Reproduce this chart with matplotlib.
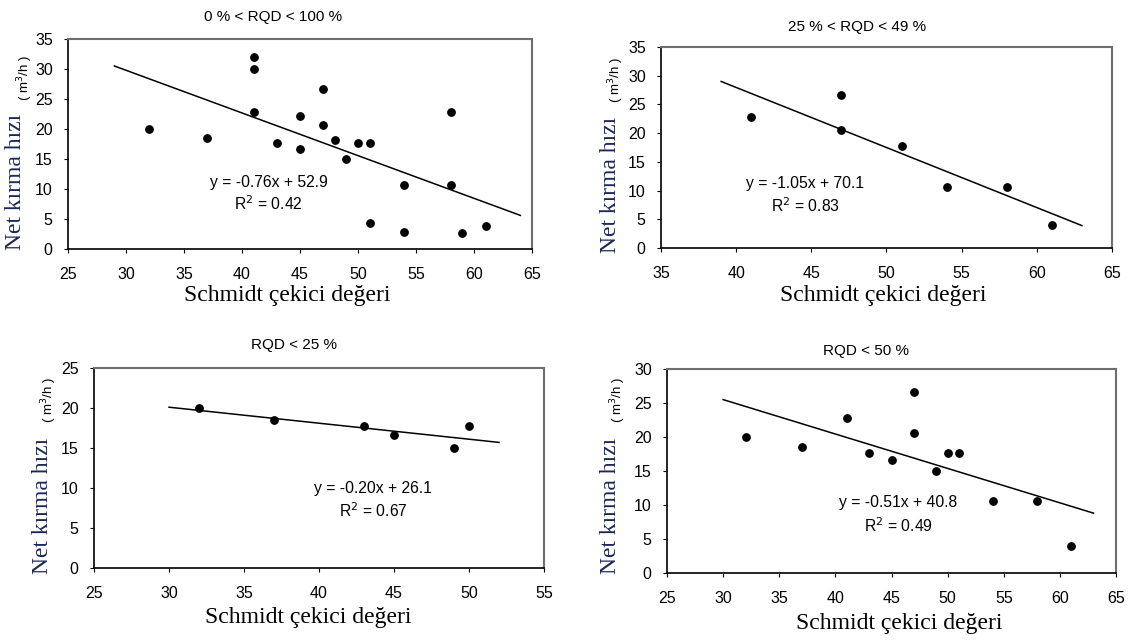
import numpy as np
import matplotlib.pyplot as plt

# panel 1: 0 % < RQD < 100 %
x_all = [32, 37, 41, 41, 41, 43, 45, 45, 47, 47, 48, 49, 50, 51, 51, 54, 54, 58, 58, 59, 61]
y_all = [20, 18.5, 32, 30, 22.8, 17.7, 22.2, 16.6, 26.6, 20.6, 18.2, 15, 17.7, 17.7, 4.3, 10.6, 2.9, 22.8, 10.6, 2.7, 3.9]
line_all_x = [29, 64]
line_all_y = [30.5, 5.6]

# panel 2: 25 % < RQD < 49 %
x_mid = [41, 47, 47, 51, 54, 58, 61]
y_mid = [22.8, 26.6, 20.6, 17.7, 10.6, 10.6, 4.0]
line_mid_x = [39, 63]
line_mid_y = [29.0, 3.9]

# panel 3: RQD < 25 %
x_low = [32, 37, 43, 45, 49, 50]
y_low = [20, 18.5, 17.7, 16.6, 15, 17.7]
line_low_x = [30, 52]
line_low_y = [20.1, 15.7]

# panel 4: RQD < 50 %
x_u50 = [32, 37, 41, 43, 45, 47, 47, 49, 50, 51, 54, 58, 61]
y_u50 = [20, 18.5, 22.8, 17.7, 16.6, 26.6, 20.6, 15, 17.7, 17.7, 10.6, 10.6, 4.0]
line_u50_x = [30, 63]
line_u50_y = [25.5, 8.8]

titles = ["0 % < RQD < 100 %", "25 % < RQD < 49 %", "RQD < 25 %", "RQD < 50 %"]
equations = ["y = -0.76x + 52.9", "y = -1.05x + 70.1", "y = -0.20x + 26.1", "y = -0.51x + 40.8"]
r2_labels = ["R$^2$ = 0.42", "R$^2$ = 0.83", "R$^2$ = 0.67", "R$^2$ = 0.49"]

W, H = 1132, 640
fig = plt.figure(figsize=(W / 100, H / 100), dpi=100)
plt.rcParams['font.family'] = ['Liberation Sans', 'DejaVu Sans']

navy = '#1c2858'


def px_axes(l, t, r, b):
    return fig.add_axes([l / W, 1 - b / H, (r - l) / W, (b - t) / H])


def ftext(x, y, s, **kw):
    fig.text(x / W, 1 - y / H, s, **kw)


panels = [
    dict(box=(68, 39, 532, 249), xs=x_all, ys=y_all, lx=line_all_x, ly=line_all_y,
         xlim=(25, 65), ylim=(0, 35),
         eq=(42.3, 11.0, 7.6), title=(273, 17), xlab=(287, 296),
         ylab=(16, 182), yunit=(25, 78)),
    dict(box=(661, 47, 1112, 248), xs=x_mid, ys=y_mid, lx=line_mid_x, ly=line_mid_y,
         xlim=(35, 65), ylim=(0, 35),
         eq=(44.6, 11.2, 7.4), title=(857, 27), xlab=(883, 295),
         ylab=(610, 185), yunit=(616, 80)),
    dict(box=(94, 368, 544, 568), xs=x_low, ys=y_low, lx=line_low_x, ly=line_low_y,
         xlim=(25, 55), ylim=(0, 25),
         eq=(43.6, 10.0, 7.2), title=(294, 345), xlab=(308, 617),
         ylab=(42, 506), yunit=(49, 400)),
    dict(box=(667, 369, 1116, 573), xs=x_u50, ys=y_u50, lx=line_u50_x, ly=line_u50_y,
         xlim=(25, 65), ylim=(0, 30),
         eq=(45.6, 10.3, 6.9), title=(866, 351), xlab=(899, 623),
         ylab=(610, 506), yunit=(618, 400)),
]

for i, p in enumerate(panels):
    ax = px_axes(*p['box'])
    ax.scatter(p['xs'], p['ys'], s=28, color='black', zorder=3)
    ax.plot(p['lx'], p['ly'], color='black', lw=1.1)
    ax.set_xlim(*p['xlim'])
    ax.set_ylim(*p['ylim'])
    ax.set_xticks(np.arange(p['xlim'][0], p['xlim'][1] + 1, 5))
    ax.set_yticks(np.arange(p['ylim'][0], p['ylim'][1] + 1, 5))
    ax.tick_params(direction='out', length=3, width=0.8, labelsize=11.5)
    ax.tick_params(axis='x', pad=10)
    ax.tick_params(axis='y', pad=8)
    for side in ['top', 'right']:
        ax.spines[side].set_color('#6e6e6e')
        ax.spines[side].set_linewidth(1.5)
    for side in ['left', 'bottom']:
        ax.spines[side].set_color('black')
        ax.spines[side].set_linewidth(1.2)

    ex, ey, ry = p['eq']
    ax.text(ex, ey, equations[i], ha='center', va='center', fontsize=11.3)
    ax.text(ex, ry, r2_labels[i], ha='center', va='center', fontsize=11.3)

    ftext(*p['title'], titles[i], ha='center', va='center', fontsize=11)
    ftext(*p['xlab'], "Schmidt çekici değeri", ha='center', va='center',
          fontsize=17, family='Liberation Serif')
    ftext(*p['ylab'], "Net kırma hızı", ha='center', va='center', rotation=90,
          fontsize=17, family='Liberation Serif', color=navy)
    ftext(*p['yunit'], "( m$^3$/h )", ha='center', va='center', rotation=90,
          fontsize=9.5)

fig.savefig('out.png', dpi=100)
